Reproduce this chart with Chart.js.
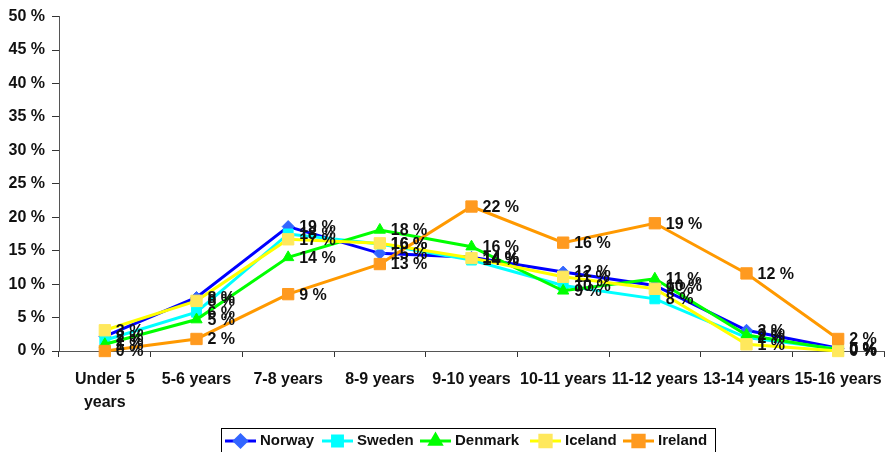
<!DOCTYPE html>
<html>
<head>
<meta charset="utf-8">
<script src="https://cdn.jsdelivr.net/npm/chart.js@4/dist/chart.umd.min.js"></script>
<style>
  html, body { margin: 0; padding: 0; background: #fff; }
  #wrap { width: 885px; height: 452px; position: relative; }
</style>
</head>
<body>
<div id="wrap"><canvas id="ageChart"></canvas></div>
<script>
const categories = [['Under 5', 'years'], '5-6 years', '7-8 years', '8-9 years', '9-10 years',
    '10-11 years', '11-12 years', '13-14 years', '15-16 years'];

const norway  = [2.2, 8.0, 18.6, 14.6, 14.0, 11.8, 9.8, 3.1, 0.4];
const sweden  = [1.6, 5.8, 17.5, 16.0, 13.6, 9.8, 7.8, 2.0, 0.3];
const denmark = [1.0, 4.7, 14.0, 18.1, 15.6, 9.0, 10.8, 2.4, 0.2];
const iceland = [3.1, 7.5, 16.7, 16.1, 13.9, 11.1, 9.3, 1.0, 0.0];
const ireland = [0.0, 1.8, 8.5, 13.0, 21.6, 16.2, 19.1, 11.6, 1.8];

const yTicks = [0, 5, 10, 15, 20, 25, 30, 35, 40, 45, 50];

const FONT = "'Liberation Sans', Arial, sans-serif";
Chart.defaults.font.family = FONT;
Chart.defaults.font.size = 16;
Chart.defaults.font.weight = 'bold';
Chart.defaults.color = '#111';

const series = [
    { label: 'Norway',  data: norway,  line: '#0000ff', fill: '#3366ff', style: 'rectRot',  r: 6 },
    { label: 'Sweden',  data: sweden,  line: '#00ffff', fill: '#00ffff', style: 'rect',     r: 7 },
    { label: 'Denmark', data: denmark, line: '#00ff00', fill: '#00ff00', style: 'triangle', r: 6.5 },
    { label: 'Iceland', data: iceland, line: '#ffff00', fill: '#ffe85c', style: 'rect',     r: 8 },
    { label: 'Ireland', data: ireland, line: '#ff9900', fill: '#ff9a1f', style: 'rect',     r: 8 }
];

// left edge of each legend entry (line sample), as measured on the original
const legendX = [225, 322, 420, 530, 623];

// data labels, category labels (drawn here so the tick padding
// doesn't squeeze the plot on the right) and the boxed legend
const labelsAndLegend = {
    id: 'labelsAndLegend',
    afterDatasetsDraw(chart) {
        const ctx = chart.ctx;
        ctx.save();
        ctx.font = 'bold 16px ' + FONT;
        ctx.fillStyle = '#111';
        ctx.textBaseline = 'middle';
        ctx.textAlign = 'left';
        chart.data.datasets.forEach((ds, i) => {
            const meta = chart.getDatasetMeta(i);
            meta.data.forEach((pt, j) => {
                ctx.fillText(Math.round(ds.data[j]) + ' %', pt.x + 11, pt.y + 1);
            });
        });
        ctx.restore();
    },
    afterDraw(chart) {
        const ctx = chart.ctx;
        const xs = chart.scales.x;
        ctx.save();
        ctx.font = 'bold 16px ' + FONT;
        ctx.fillStyle = '#111';
        ctx.textBaseline = 'middle';
        ctx.textAlign = 'center';
        categories.forEach((c, i) => {
            const lines = Array.isArray(c) ? c : [c];
            const px = xs.getPixelForValue(i);
            lines.forEach((t, k) => ctx.fillText(t, px, xs.top + 29 + k * 23));
        });

        ctx.textAlign = 'left';
        ctx.strokeStyle = '#000';
        ctx.lineWidth = 1;
        ctx.strokeRect(221.5, 428.5, 494, 30);
        ctx.font = 'bold 15px ' + FONT;
        const y = 441;
        series.forEach((s, i) => {
            const x = legendX[i];
            ctx.strokeStyle = s.line;
            ctx.lineWidth = 3;
            ctx.beginPath();
            ctx.moveTo(x, y);
            ctx.lineTo(x + 31, y);
            ctx.stroke();
            ctx.fillStyle = s.fill;
            ctx.strokeStyle = s.fill;
            Chart.helpers.drawPoint(ctx, { pointStyle: s.style, radius: s.r, borderWidth: 1, rotation: 0 }, x + 15.5, y);
            ctx.fillStyle = '#111';
            ctx.fillText(s.label, x + 35, y);
        });
        ctx.restore();
    }
};

new Chart(document.getElementById('ageChart'), {
    type: 'line',
    data: {
        labels: categories,
        datasets: series.map((s, i) => ({
            label: s.label,
            data: s.data,
            borderColor: s.line,
            backgroundColor: s.fill,
            pointBackgroundColor: s.fill,
            pointBorderColor: s.fill,
            pointStyle: s.style,
            pointRadius: s.r,
            pointBorderWidth: 1,
            borderWidth: 3,
            tension: 0,
            clip: false,
            order: series.length - i
        }))
    },
    options: {
        responsive: true,
        maintainAspectRatio: false,
        animation: false,
        layout: { autoPadding: false, padding: { top: 15, right: 1, left: 0, bottom: 0 } },
        plugins: {
            legend: { display: false },
            tooltip: { enabled: false }
        },
        scales: {
            x: {
                offset: true,
                grid: { offset: true, drawOnChartArea: false, drawTicks: true, tickLength: 6, color: '#333' },
                border: { display: true, color: '#555', width: 1 },
                ticks: { display: false, autoSkip: false },
                afterFit: s => { s.height = 101; s.paddingLeft = 0; s.paddingRight = 0; }
            },
            y: {
                min: 0,
                max: 50,
                afterBuildTicks: s => { s.ticks = yTicks.map(v => ({ value: v })); },
                grid: { drawOnChartArea: false, drawTicks: true, tickLength: 7, color: '#333' },
                border: { display: true, color: '#555', width: 1 },
                ticks: { padding: 7, callback: v => v + ' %' },
                afterFit: s => { s.width = 59; }
            }
        }
    },
    plugins: [labelsAndLegend]
});
</script>
</body>
</html>
